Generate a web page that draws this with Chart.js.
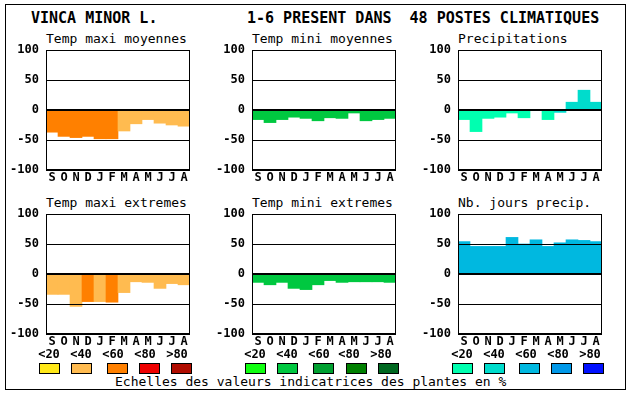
<!DOCTYPE html>
<html>
<head>
<meta charset="utf-8">
<script src="https://cdn.jsdelivr.net/npm/chart.js@4.4.1/dist/chart.umd.min.js"></script>
<style>
  body { margin:0; width:630px; height:394px; background:#fff; position:relative; overflow:hidden; font-family:'DejaVu Sans Mono', monospace; color:#000; }
  .frame { position:absolute; left:5px; top:4px; width:619px; height:384px; border:1px solid #000; }
  .txt { position:absolute; white-space:pre; line-height:16px; }
  .head { font-size:15px; font-weight:bold; }
  .ttl { font-size:13px; }
  .lab { font-size:12px; font-weight:bold; width:22px; text-align:center; }
  .box { position:absolute; width:19px; height:9px; border:1px solid #000; }
  canvas { position:absolute; }
</style>
</head>
<body>
<div class="frame"></div>
<div class="txt head" style="left:31px;top:10px">VINCA MINOR L.</div>
<div class="txt head" style="left:247px;top:10px">1-6 PRESENT DANS  48 POSTES CLIMATIQUES</div>
<div class="txt ttl" style="left:115px;top:374px">Echelles des valeurs indicatrices des plantes en %</div>

<script>
const months = ['S','O','N','D','J','F','M','A','M','J','J','A'];
const classLabels = ['<20','<40','<60','<80','>80'];

const tmaxMoy      = [-37,-44,-46,-44,-48,-48,-35,-23,-16,-22,-25,-27];
const tmaxMoyCls   = [2,2,2,2,2,2,1,1,1,1,1,1];
const tminMoy      = [-16,-21,-16,-12,-14,-18,-13,-14,-5,-18,-16,-14];
const tminMoyCls   = [1,1,1,1,1,1,1,1,1,1,1,1];
const precip       = [-16,-36,-14,-12,-5,-13,0,-16,-4,13,33,13];
const precipCls    = [0,0,0,0,0,0,0,0,1,1,1,1];
const tmaxExt      = [-34,-34,-54,-46,-46,-47,-31,-13,-14,-24,-16,-18];
const tmaxExtCls   = [1,1,1,2,1,2,1,1,1,1,1,1];
const tminExt      = [-14,-18,-14,-24,-26,-18,-11,-14,-13,-13,-13,-14];
const tminExtCls   = [1,1,1,1,1,1,1,1,1,1,1,1];
const joursPrecip  = [54,46,46,46,61,50,57,46,52,57,56,54];
const joursCls     = [2,2,2,2,2,2,2,2,2,2,2,2];

const orangePal = ['#FFE818','#FFBB50','#FF8000','#EE0000','#B00C00'];
const greenPal  = ['#10FF10','#00C840','#00A030','#008000','#006820'];
const cyanPal   = ['#00FFB0','#00DCCC','#00B8E0','#0098E8','#0010FF'];

const MONO = "'DejaVu Sans Mono', monospace";

const framePlugin = {
  id: 'frame',
  afterDraw(chart) {
    const a = chart.chartArea, c = chart.ctx;
    c.save();
    c.strokeStyle = '#000'; c.lineWidth = 1;
    c.strokeRect(a.left + 0.5, a.top + 0.5, a.right - a.left - 1, a.bottom - a.top - 1);
    c.restore();
  }
};

function addText(cls, txt, left, top) {
  const d = document.createElement('div');
  d.className = 'txt ' + cls;
  d.style.left = left + 'px'; d.style.top = top + 'px';
  d.textContent = txt;
  document.body.appendChild(d);
}

function makeChart(title, values, classes, palette, plotLeft, plotTop) {
  addText('ttl', title, plotLeft, plotTop - 19);
  const cv = document.createElement('canvas');
  cv.width = 196; cv.height = 144;
  cv.style.left = (plotLeft - 46) + 'px';
  cv.style.top = (plotTop - 8) + 'px';
  document.body.appendChild(cv);
  new Chart(cv, {
    type: 'bar',
    data: {
      labels: months,
      datasets: [{ data: values, backgroundColor: classes.map(k => palette[k]), borderWidth: 0, barPercentage: 1, categoryPercentage: 1 }]
    },
    options: {
      responsive: false, animation: false, devicePixelRatio: 1,
      layout: { padding: { top: 8, right: 6, left: 0, bottom: 0 } },
      plugins: { legend: { display: false }, tooltip: { enabled: false } },
      scales: {
        x: {
          grid: { display: false, drawTicks: false }, border: { display: false },
          ticks: { color: '#000', font: { family: MONO, size: 12, weight: 'bold' }, padding: 1, autoSkip: false, maxRotation: 0 },
          afterFit: s => { s.height = 16; s.paddingLeft = 0; s.paddingRight = 0; }
        },
        y: {
          min: -100, max: 100,
          grid: { color: '#000', drawTicks: false, z: 1, lineWidth: c => (c.tick && c.tick.value === 0 ? 2 : 1) },
          border: { display: false },
          ticks: { stepSize: 50, color: '#000', font: { family: MONO, size: 12, weight: 'bold' }, padding: 7 },
          afterFit: s => { s.width = 46; s.paddingTop = 0; s.paddingBottom = 0; }
        }
      }
    },
    plugins: [framePlugin]
  });
}

makeChart('Temp maxi moyennes', tmaxMoy, tmaxMoyCls, orangePal, 46, 50);
makeChart('Temp mini moyennes', tminMoy, tminMoyCls, greenPal, 252, 50);
makeChart('Precipitations', precip, precipCls, cyanPal, 458, 50);
makeChart('Temp maxi extremes', tmaxExt, tmaxExtCls, orangePal, 46, 214);
makeChart('Temp mini extremes', tminExt, tminExtCls, greenPal, 252, 214);
makeChart('Nb. jours precip.', joursPrecip, joursCls, cyanPal, 458, 214);

// echelles de couleurs sous les graphiques
const legendGroups = [
  { pal: orangePal, labelX: [38, 70, 102, 134, 166], boxX: [39, 71, 107, 139, 171] },
  { pal: greenPal,  labelX: [244, 276, 308, 338, 370], boxX: [245, 277, 313, 346, 378] },
  { pal: cyanPal,   labelX: [451, 483, 515, 547, 579], boxX: [452, 484, 519, 551, 583] }
];
legendGroups.forEach(g => {
  classLabels.forEach((lbl, i) => {
    addText('lab', lbl, g.labelX[i], 346);
    const b = document.createElement('div');
    b.className = 'box';
    b.style.left = g.boxX[i] + 'px'; b.style.top = '363px';
    b.style.background = g.pal[i];
    document.body.appendChild(b);
  });
});
</script>
</body>
</html>
